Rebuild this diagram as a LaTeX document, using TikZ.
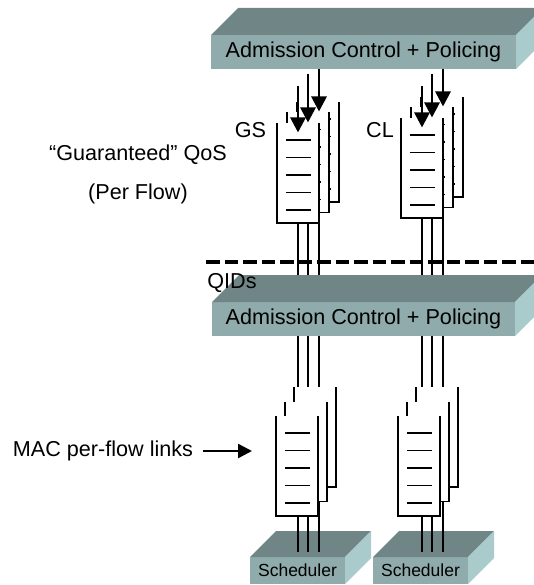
\documentclass[tikz,border=0pt]{standalone}
\usepackage{fontspec}
\setmainfont{Liberation Sans}
\usetikzlibrary{positioning, arrows.meta, calc}

\begin{document}
\begin{tikzpicture}[x=1pt, y=-1pt, font=\fontsize{21.6}{26}\selectfont]
        % slab colours
        \definecolor{slabtopc}{RGB}{112,134,134}
        \definecolor{slabfrontc}{RGB}{143,171,171}
        \definecolor{slabsidec}{RGB}{170,203,203}

        % common styles
        \tikzset{
            slabfront/.style={fill=slabfrontc, inner sep=0pt, outer sep=0pt, anchor=north west},
            slabtop/.style={fill=slabtopc},
            slabside/.style={fill=slabsidec},
            queuebox/.style={fill=white, minimum width=42pt, minimum height=100pt, inner sep=0pt, outer sep=0pt, anchor=south west},
            queueline/.style={line width=1.8pt},
            link/.style={line width=1.8pt},
            flow/.style={line width=2.8pt, -{Triangle[width=15pt,length=15pt]}},
            macarrow/.style={line width=2.4pt, -{Triangle[width=14pt,length=14pt]}, shorten <=10pt, shorten >=24pt},
            qosline/.style={line width=4pt, dash pattern=on 13.5pt off 5pt},
            txt/.style={inner sep=0pt}
        }

        % top and side faces of a slab (#1 = front face node, #2 = depth)
        \def\slabfaces#1#2{
            \fill[slabtop] (#1.north west) -- ++(#2,-#2) -- ($(#1.north east)+(#2,-#2)$) -- (#1.north east) -- cycle;
            \fill[slabside] (#1.north east) -- ++(#2,-#2) -- ($(#1.south east)+(#2,-#2)$) -- (#1.south east) -- cycle;
        }

        \fill[white] (0,0) rectangle (533,585);
        \useasboundingbox (0,0) rectangle (533,585);

        % --- upper admission control ---
        \node[slabfront, minimum width=305pt, minimum height=34pt] (acTop) at (211,35) {Admission Control + Policing};
        \slabfaces{acTop}{27}

        % --- upper queues (GS, CL), back to front ---
        \foreach \stk/\qx/\qy in {gsUp/277/223, clUp/401/218} {
            \foreach \l in {2,1,0} {
                \node[queuebox] (\stk\l) at ({\qx+10*\l},{\qy-10.5*\l}) {};
                \draw[queueline] (\stk\l.north west) -- (\stk\l.south west) -- (\stk\l.south east) -- (\stk\l.north east);
                \foreach \k in {1,...,5}
                    \draw[queueline] ($(\stk\l.north west)+(9,17.5*\k-0.5)$) -- ++(25,0);
            }
        }

        % arrows into the queues
        \foreach \stk in {gsUp, clUp} {
            \foreach \dx/\dy/\gap [count=\i] in {21/9.5/17, 31/-0.5/5, 42/-11.5/0} {
                \coordinate (\stk-in\i) at ($(\stk0.north west)+(\dx,\dy)$);
                \draw[flow, shorten <=\gap pt] (acTop.south -| \stk-in\i) -- (\stk-in\i);
            }
        }

        % links down to the lower queues
        \foreach \stk in {gsUp, clUp}
            \foreach \dx in {21,31,42}
                \draw[link] ($(\stk0.south west)+(\dx,0)$) -- ++(0,185);

        % dashed border
        \draw[qosline] (206,262) -- (540,262);

        % --- lower admission control ---
        \node[slabfront, minimum width=303pt, minimum height=34pt] (acBot) at (212,302) {Admission Control + Policing};
        \slabfaces{acBot}{27}

        % --- schedulers ---
        \foreach \nm/\sx/\lx in {schedA/250/48, schedB/373/49} {
            \node[slabfront, minimum width=95pt, minimum height=27pt, font=\fontsize{17.5}{21}\selectfont] (\nm) at (\sx,557) {Scheduler};
            \slabfaces{\nm}{26}
            \foreach \dx in {0,10,21}
                \draw[link] ($(\nm.north west)+(\lx+\dx,-5)$) -- ++(0,-70);
        }

        % --- lower queues, back to front ---
        \foreach \stk/\qx in {gsLow/276, clLow/398} {
            \foreach \l in {2,1,0} {
                \node[queuebox] (\stk\l) at ({\qx+9*\l},{516-14.5*\l}) {};
                \draw[queueline] (\stk\l.north west) -- (\stk\l.south west) -- (\stk\l.south east) -- (\stk\l.north east);
                \foreach \k in {1,...,5}
                    \draw[queueline] ($(\stk\l.north west)+(9,17.5*\k-0.5)$) -- ++(25,0);
            }
        }

        % --- labels ---
        \node[txt] (gsLabel) at (250.5,130) {GS};
        \node[txt] (clLabel) at (380,130) {CL};
        \node[txt] (qos) at (138,155) {“Guaranteed” QoS};
        \node[txt] (perFlow) at (138,194) {(Per Flow)};
        \node[txt] (qids) at (232,283) {QIDs};
        \node[txt] (mac) at (103,451) {MAC per-flow links};
        \draw[macarrow] (mac.east) -- (mac.east -| gsLow0.west);
\end{tikzpicture}
\end{document}
